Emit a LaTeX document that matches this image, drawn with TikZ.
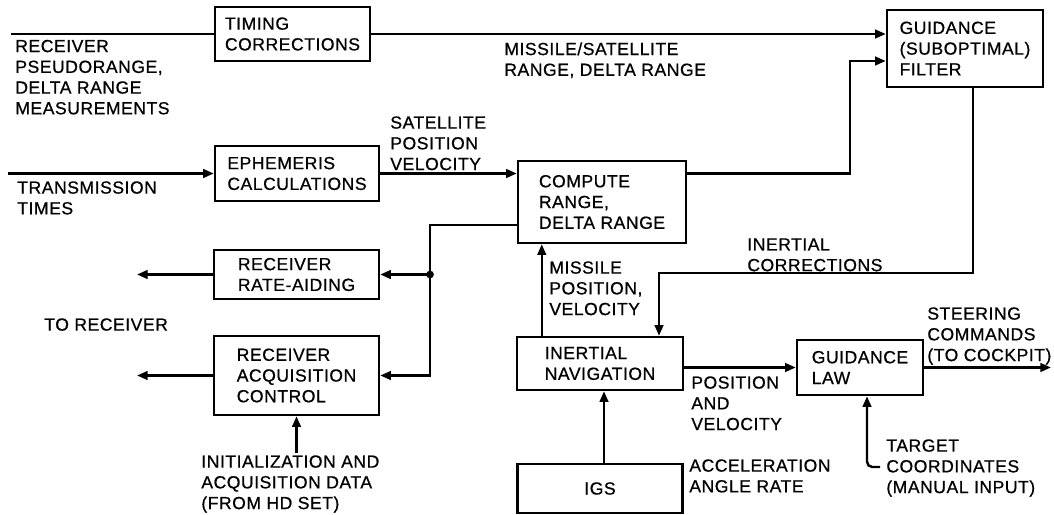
\documentclass[tikz,border=0pt]{standalone}
\usepackage{fontspec}
\newfontfamily\diagfont{Liberation Sans}[LetterSpace=3,FakeBold=0.7]
\usetikzlibrary{arrows.meta,positioning,calc}
\newcommand{\lblfont}{\diagfont\fontsize{10}{11.8}\selectfont}

\begin{document}
\begin{tikzpicture}[
blk/.style={draw, line width=1.4pt, align=left, font=\lblfont, inner sep=0pt},
lbl/.style={anchor=north west, align=left, font=\lblfont, inner sep=0pt},
arrow/.style={-{Triangle[length=6pt,width=4.8pt]}, line width=1.4pt},
wire/.style={line width=1.4pt}
]
\useasboundingbox (0,0) rectangle (21.08,-10.28);

% processing blocks
\node[blk, minimum width=3.1cm, minimum height=1.08cm] (timing) at (5.85,-0.68) {TIMING\\CORRECTIONS};
\node[blk, minimum width=3.28cm, minimum height=1.1cm] (ephem) at (5.94,-3.47) {EPHEMERIS\\CALCULATIONS};
\node[blk, minimum width=3.36cm, minimum height=1.64cm] (compute) at (12.04,-4.04) {COMPUTE\\RANGE,\\DELTA RANGE};
\node[blk, minimum width=3.12cm, minimum height=1.54cm] (filter) at (19.3,-0.97) {GUIDANCE\\(SUBOPTIMAL)\\FILTER};
\node[blk, minimum width=3.3cm, minimum height=0.98cm] (rate) at (5.93,-5.49) {RECEIVER\\RATE-AIDING};
\node[blk, minimum width=3.3cm, minimum height=1.58cm] (acq) at (5.93,-7.51) {RECEIVER\\ACQUISITION\\CONTROL};
\node[blk, minimum width=3.32cm, minimum height=1.06cm] (ins) at (12.0,-7.27) {INERTIAL\\NAVIGATION};
\node[blk, minimum width=2.52cm, minimum height=1.1cm] (gl) at (17.2,-7.35) {GUIDANCE\\LAW};
\node[blk, minimum width=3.3cm, minimum height=0.98cm] (igs) at (12.0,-9.77) {IGS};

% free ends and bends
\coordinate (in1) at (0.22,-0.68);
\coordinate (in2) at (0.16,-3.47);
\coordinate (fbend) at (17.0,-1.22);
\coordinate (split) at (8.6,-5.49);
\coordinate (rout) at (2.74,-5.49);
\coordinate (aout) at (2.74,-7.51);
\coordinate (iin) at (5.93,-9.06);
\coordinate (cbend) at (13.18,-5.46);
\coordinate (sout) at (21.02,-7.35);
\coordinate (tin) at (17.6,-9.34);

% signal labels
\node[lbl] (recv) at (0.30,-0.79) {RECEIVER\\PSEUDORANGE,\\DELTA RANGE\\MEASUREMENTS};
\node[lbl] (trans) at (0.34,-3.62) {TRANSMISSION\\TIMES};
\node[lbl] (satpos) at (7.80,-2.32) {SATELLITE\\POSITION\\VELOCITY};
\node[lbl] (msr) at (10.08,-0.84) {MISSILE/SATELLITE\\RANGE, DELTA RANGE};
\node[lbl] (inc) at (14.94,-4.76) {INERTIAL\\CORRECTIONS};
\node[lbl] (mpv) at (10.98,-5.22) {MISSILE\\POSITION,\\VELOCITY};
\node[lbl] (torecv) at (0.88,-6.36) {TO RECEIVER};
\node[lbl] (init) at (4.02,-9.1) {INITIALIZATION AND\\ACQUISITION DATA\\(FROM HD SET)};
\node[lbl] (pav) at (13.82,-7.52) {POSITION\\AND\\VELOCITY};
\node[lbl] (accel) at (13.78,-9.18) {ACCELERATION\\ANGLE RATE};
\node[lbl] (steer) at (18.54,-6.14) {STEERING\\COMMANDS\\(TO COCKPIT)};
\node[lbl] (target) at (17.72,-8.78) {TARGET\\COORDINATES\\(MANUAL INPUT)};

% connectors
\draw[wire] (in1) -- (timing.west);
\draw[arrow] (timing.east) -- (timing.east -| filter.west);
\draw[arrow] (in2) -- (ephem.west);
\draw[arrow] (ephem.east) -- (ephem.east -| compute.west);
\draw[arrow] (ephem.east -| compute.east) -| (fbend) -- (fbend -| filter.west);
\draw[arrow] ([yshift=-0.46cm]compute.west) -| (split) |- (acq.east);
\draw[arrow] (split) -- (rate.east);
\fill (split) circle (2.2pt);
\draw[arrow] (rate.west) -- (rout);
\draw[arrow] (acq.west) -- (aout);
\draw[arrow] (iin) -- (acq.south);
\draw[arrow] ([xshift=0.52cm]ins.north west) -- ([xshift=0.52cm]ins.north west |- compute.south);
\draw[arrow] ([xshift=0.16cm]filter.south) |- (cbend) -- (cbend |- ins.north);
\draw[arrow] (gl.west -| ins.east) -- (gl.west);
\draw[arrow] (gl.east) -- (sout);
\draw[arrow] ([xshift=0.08cm]igs.north) -- ([xshift=0.08cm]igs.north |- ins.south);
\draw[arrow, rounded corners=3pt] (tin) -| ([xshift=0.14cm]gl.south);

\end{tikzpicture}
\end{document}
